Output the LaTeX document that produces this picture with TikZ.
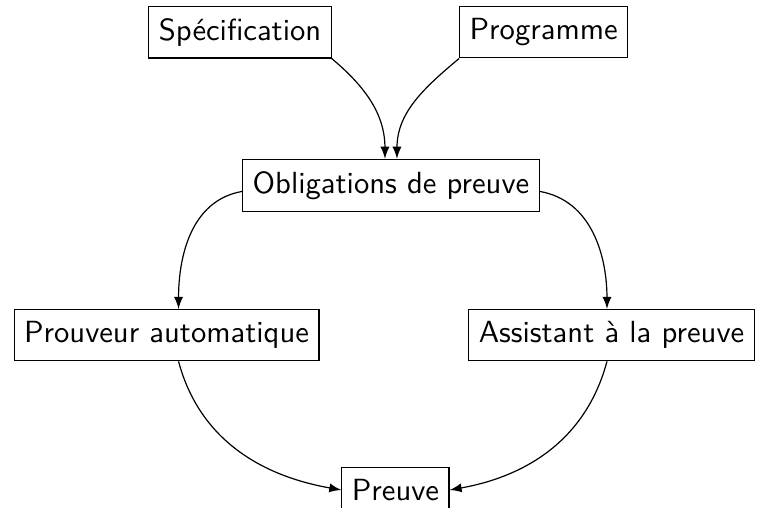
\documentclass[tikz,border=0pt]{standalone}
\begin{document}
\begin{tikzpicture}
        \tikzstyle{node_style} = [rectangle,draw=black,inner ysep=4pt,font=\sffamily\fontsize{10.2}{12}\selectfont]
        \tikzstyle{edge_style} = [-latex,draw=black]
        \useasboundingbox (0,0) rectangle (253.3pt,-169pt);
        \node[node_style] (spec) at (80pt,-10.7pt) {Spécification};
        \node[node_style] (prog) at (181.2pt,-10.7pt) {Programme};
        \node[node_style] (oblig) at (130.3pt,-61.8pt) {Obligations de preuve};
        \node[node_style] (prouv) at (55.5pt,-111.7pt) {Prouveur automatique};
        \node[node_style] (assist) at (203.8pt,-111.7pt) {Assistant à la preuve};
        \node[node_style] (preuve) at (131.8pt,-163.3pt) {Preuve};
        \draw[edge_style] (spec.south east) to[out=-40,in=90] ([xshift=-2pt]oblig.north);
        \draw[edge_style] (prog.south west) to[out=-140,in=90] ([xshift=2pt]oblig.north);
        \draw[edge_style] ([yshift=-2pt]oblig.west) to[out=190,in=90] ([xshift=4pt]prouv.north);
        \draw[edge_style] ([yshift=-2pt]oblig.east) to[out=-10,in=90] ([xshift=-1.5pt]assist.north);
        \draw[edge_style] ([xshift=4pt]prouv.south) to[out=-75,in=170] (preuve.west);
        \draw[edge_style] ([xshift=-1.5pt]assist.south) to[out=-105,in=10] (preuve.east);
\end{tikzpicture}
\end{document}
